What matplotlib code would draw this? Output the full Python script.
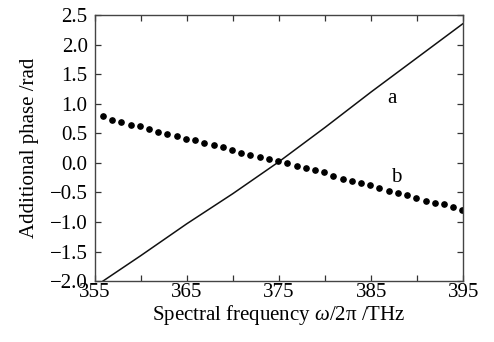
import matplotlib
matplotlib.use("Agg")
import matplotlib.pyplot as plt
from matplotlib.ticker import MultipleLocator, FuncFormatter

plt.rcParams['font.family'] = ['Liberation Serif', 'DejaVu Serif']
plt.rcParams['mathtext.fontset'] = 'custom'
plt.rcParams['mathtext.rm'] = 'Liberation Serif'
plt.rcParams['mathtext.it'] = 'Liberation Serif:italic'

# Curve a (solid line)
freq_a = [355.9, 360, 365, 370, 375, 380, 385, 390, 395]
phase_a = [-2.0, -1.57, -1.03, -0.52, 0.02, 0.60, 1.20, 1.78, 2.36]

# Curve b (dots)
freq_b = [355.9, 356.9, 357.9, 358.9, 359.9, 360.9, 361.9, 362.9, 363.9, 364.9,
          365.9, 366.9, 367.9, 368.9, 369.9, 370.9, 371.9, 372.9, 373.9, 374.9,
          375.9, 376.9, 377.9, 378.9, 379.9, 380.9, 381.9, 382.9, 383.9, 384.9,
          385.9, 386.9, 387.9, 388.9, 389.9, 390.9, 391.9, 392.9, 393.9, 394.9]
phase_b = [0.79, 0.73, 0.69, 0.64, 0.62, 0.57, 0.53, 0.49, 0.45, 0.40,
           0.39, 0.34, 0.31, 0.27, 0.22, 0.17, 0.14, 0.10, 0.06, 0.03,
           -0.01, -0.05, -0.09, -0.12, -0.16, -0.22, -0.27, -0.31, -0.34, -0.38,
           -0.43, -0.47, -0.51, -0.55, -0.60, -0.64, -0.68, -0.70, -0.75, -0.80]

x_labels = [355, 365, 375, 385, 395]

fig = plt.figure(figsize=(4.94, 3.42), dpi=100)
ax = fig.add_axes([0.1915, 0.178, 0.7465, 0.778])

ax.plot(freq_a, phase_a, color='#111111', lw=1.1)
ax.plot(freq_b, phase_b, linestyle='none', marker='o', ms=3.8, color='#000000')

ax.set_xlim(355, 395)
ax.set_ylim(-2.0, 2.5)
ax.xaxis.set_major_locator(MultipleLocator(5))
ax.yaxis.set_major_locator(MultipleLocator(0.5))
ax.xaxis.set_major_formatter(FuncFormatter(
    lambda v, p: f"{int(round(v))}" if int(round(v)) in x_labels else ""))
ax.yaxis.set_major_formatter(FuncFormatter(
    lambda v, p: f"{v:.1f}".replace('-', '\u2212')))

ax.tick_params(direction='in', top=True, right=True, length=4, width=0.9,
               color='#333333', labelsize=15)
ax.tick_params(axis='x', pad=1)
ax.tick_params(axis='y', pad=5)
for s in ax.spines.values():
    s.set_color('#444444')
    s.set_linewidth(1.0)

ax.text(387.2, 1.09, 'a', fontsize=15, ha='center', va='center')
ax.text(387.7, -0.24, 'b', fontsize=15, ha='center', va='center')

ax.set_xlabel(r'Spectral frequency $\omega$/2π /THz', fontsize=15, labelpad=1)
ax.set_ylabel('Additional phase /rad', fontsize=15, labelpad=8)

fig.savefig('out.png', dpi=100)
